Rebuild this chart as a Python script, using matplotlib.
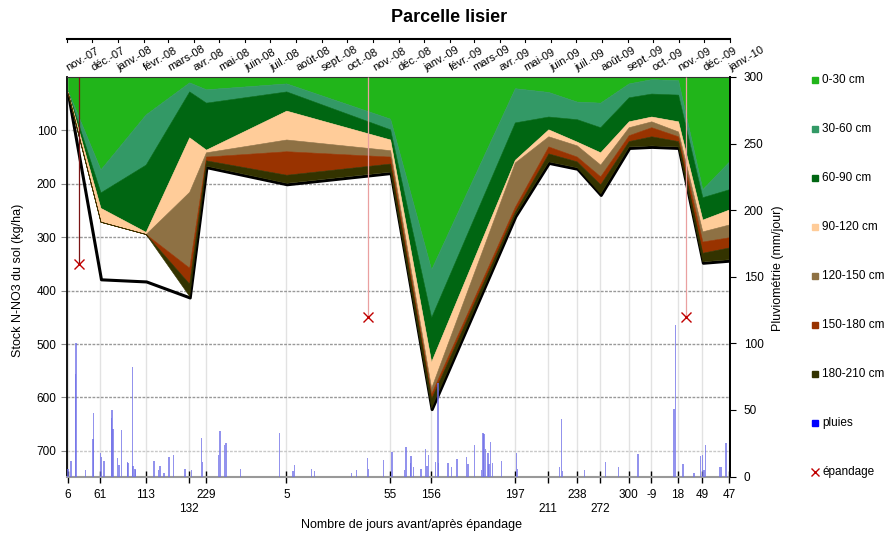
import matplotlib

matplotlib.use("Agg")
import matplotlib.pyplot as plt
import matplotlib.dates as mdates
import pandas as pd
from matplotlib.lines import Line2D
from matplotlib.transforms import blended_transform_factory, offset_copy

plt.rcParams["font.family"] = ["Liberation Sans", "DejaVu Sans"]

# sampling dates and labels (days before/after spreading)
sample_dates = ["2007-11-02", "2007-12-11", "2008-02-03", "2008-03-26", "2008-04-15",
                "2008-07-20", "2008-11-21", "2009-01-09", "2009-04-19", "2009-05-29",
                "2009-07-02", "2009-07-30", "2009-09-02", "2009-09-29", "2009-10-31",
                "2009-11-29", "2009-12-31"]
day_labels = ["6", "61", "113", "132", "229", "5", "55", "156", "197", "211",
              "238", "272", "300", "-9", "18", "49", "47"]
low_labels = [3, 9, 11]

# N-NO3 stock per layer (kg/ha)
layer_names = ["0-30 cm", "30-60 cm", "60-90 cm", "90-120 cm",
               "120-150 cm", "150-180 cm", "180-210 cm"]
l_0_30 = [26, 173, 70, 10, 23, 12, 78, 360, 21, 28, 46, 48, 12, 4, 6, 210, 158]
l_30_60 = [1, 43, 94, 17, 25, 15, 20, 90, 64, 46, 33, 46, 26, 27, 27, 15, 52]
l_60_90 = [1, 29, 126, 86, 88, 36, 19, 83, 70, 24, 42, 47, 45, 43, 50, 42, 38]
l_90_120 = [1, 26, 4, 102, 5, 54, 20, 49, 5, 13, 7, 23, 11, 9, 19, 22, 28]
l_120_150 = [1, 0, 0, 142, 8, 22, 12, 11, 83, 19, 21, 22, 15, 11, 9, 19, 24]
l_150_180 = [1, 0, 0, 30, 7, 44, 13, 9, 9, 13, 9, 15, 11, 17, 9, 21, 19]
l_180_210 = [1, 0, 0, 23, 10, 15, 15, 17, 6, 15, 11, 17, 10, 17, 10, 16, 22]
profile_total = [32, 376, 380, 410, 166, 198, 177, 619, 258, 158, 169, 218,
                 130, 128, 130, 345, 341]

# spreading events
ep_dates = ["2007-11-15", "2008-10-26", "2009-11-09"]
ep_values = [350, 450, 450]

# daily rainfall (mm), day counted from 2007-11-01
rain_start = "2007-11-01"
rain_day = [1, 5, 10, 11, 22, 31, 32, 40, 41, 44, 53, 54, 55, 60, 62, 65, 72, 73,
            78, 79, 81, 82, 104, 109, 111, 116, 122, 127, 141, 149, 161, 162, 181,
            183, 188, 190, 207, 254, 270, 272, 292, 296, 340, 346, 359, 360, 378,
            388, 403, 405, 410, 411, 414, 423, 428, 430, 432, 440, 443, 444, 455,
            459, 466, 477, 479, 487, 495, 497, 498, 500, 503, 504, 506, 508, 519,
            537, 538, 588, 591, 592, 618, 643, 659, 682, 725, 727, 736, 749, 757,
            759, 761, 763, 780, 782, 787]
rain_mm = [6, 12, 77, 100, 5, 28, 48, 18, 15, 12, 44, 50, 36, 14, 9, 35, 11, 10,
           82, 8, 6, 5, 12, 5, 8, 3, 15, 16, 6, 5, 29, 11, 16,
           34, 24, 25, 6, 33, 4, 9, 5.5, 4.5, 3, 5, 14, 5.5, 12.5,
           18.5, 5, 22.5, 10, 15.5, 7, 6, 21, 8, 16, 11, 70, 10, 10,
           7.5, 13, 14.5, 9.5, 24, 5, 33, 32, 21, 17.5, 9.5, 26, 10, 12,
           17.5, 6, 7.5, 43, 4, 5, 11, 7, 17, 51, 114, 9.5, 3, 15.5,
           16, 5, 24, 7.5, 7.5, 25]

months_fr = ["janv.", "févr.", "mars", "avr.", "mai", "juin", "juil.",
             "août", "sept.", "oct.", "nov.", "déc."]
layer_colors = ["#21b51a", "#339966", "#006612", "#ffcc99",
                "#8e7144", "#993300", "#333300"]

W, H = 888, 536
fig = plt.figure(figsize=(W / 100, H / 100), dpi=100)
ax = fig.add_axes([67 / W, 1 - 476.5 / H, 663 / W, 399.5 / H])

x = mdates.date2num(pd.to_datetime(sample_dates))
months = pd.date_range("2007-11-01", "2010-01-01", freq="MS")
mx = mdates.date2num(months)
ax.set_xlim(mx[0], mx[-1])
ax.set_ylim(748, 0)

# grid
for v in range(100, 800, 100):
    c = "#c8c8c8" if v in (100, 700) else "#999999"
    ax.axhline(v, color=c, lw=1, ls=(0, (2, 1)), zorder=0.5)
for xi in x:
    ax.axvline(xi, color="#e2e2e2", lw=1, zorder=0.4)

layers = [l_0_30, l_30_60, l_60_90, l_90_120, l_120_150, l_150_180, l_180_210]
shadow = offset_copy(ax.transData, fig=fig, x=1, y=-2, units="dots")
ax.plot(x, profile_total, color="black", lw=2.2, transform=shadow, zorder=1)
ax.stackplot(x, layers, colors=layer_colors, lw=0.4, edgecolor="face", zorder=2)

# spreading
ex = mdates.date2num(pd.to_datetime(ep_dates))
ax.vlines(ex, 0, ep_values, colors=["#7a1414", "#eaa0a0", "#eaa0a0"], lw=0.9, zorder=3)
ax.plot(ex, ep_values, "x", color="#c00000", ms=7, mew=1, zorder=5)

ax.set_yticks(range(100, 800, 100))
ax.tick_params(axis="y", colors="#888888", labelcolor="black", labelsize=8.5, length=4)
ax.set_xticks(x)
ax.set_xticklabels(["" if i in low_labels else s for i, s in enumerate(day_labels)])
ax.tick_params(axis="x", direction="inout", length=8, width=1, colors="black",
               labelsize=8.5, pad=5)
bt = blended_transform_factory(ax.transData, ax.transAxes)
for i in low_labels:
    ax.text(x[i], -0.081, day_labels[i], transform=bt, ha="center", va="center",
            fontsize=8.5)

for side in ("left", "right"):
    ax.spines[side].set_color("black")
    ax.spines[side].set_linewidth(1.3)
ax.spines["bottom"].set_color("#999999")
ax.spines["bottom"].set_linewidth(1.5)
ax.spines["top"].set_color("#333333")
ax.spines["top"].set_linewidth(0.8)

# rain on secondary axis
ax2 = ax.twinx()
rx = mdates.date2num(pd.Timestamp(rain_start)) + pd.Series(rain_day).to_numpy()
ax2.bar(rx, rain_mm, width=1.7, color="#6f6fe8", alpha=0.75, lw=0, zorder=4)
ax2.set_ylim(0, 300)
ax2.set_yticks(range(0, 301, 50))
ax2.tick_params(axis="y", labelsize=8.5, length=4, pad=6)
for side in ("left", "top", "bottom"):
    ax2.spines[side].set_visible(False)
ax2.spines["right"].set_linewidth(1.3)

# month axis on top
fig.add_artist(Line2D([67 / W, 730 / W], [1 - 39 / H] * 2, color="black", lw=1.5))
for m, d in zip(mx, months):
    lab = f"{months_fr[d.month - 1]}-{d.year % 100:02d}"
    ax.text(m + 2, 1.015, lab, transform=bt, rotation=30, rotation_mode="anchor",
            ha="left", va="baseline", fontsize=8)
    ax.plot([m, m], [1.095, 1.088], color="black", lw=0.8, transform=bt, clip_on=False)

fig.text(449 / W, 1 - 17 / H, "Parcelle lisier", ha="center", va="center",
         fontsize=13, fontweight="bold")
fig.text(18 / W, 1 - 280 / H, "Stock N-NO3 du sol (kg/ha)", rotation=90,
         ha="center", va="center", fontsize=9)
fig.text(778 / W, 1 - 268 / H, "Pluviométrie (mm/jour)", rotation=90,
         ha="center", va="center", fontsize=9)
fig.text(411 / W, 1 - 525 / H, "Nombre de jours avant/après épandage",
         ha="center", va="center", fontsize=9)

# legend
leg_names = layer_names + ["pluies", "épandage"]
leg_colors = layer_colors + ["#0000ff", "#c00000"]
for i, (name, c) in enumerate(zip(leg_names, leg_colors)):
    yy = 1 - (80 + 49 * i) / H
    mk = "x" if name == "épandage" else "s"
    fig.add_artist(Line2D([815 / W], [yy], marker=mk, ms=5 if mk == "s" else 6,
                          color=c, mew=1, lw=0))
    fig.text(822 / W, yy, name, ha="left", va="center", fontsize=8.5)

fig.savefig("out.png", dpi=100)
